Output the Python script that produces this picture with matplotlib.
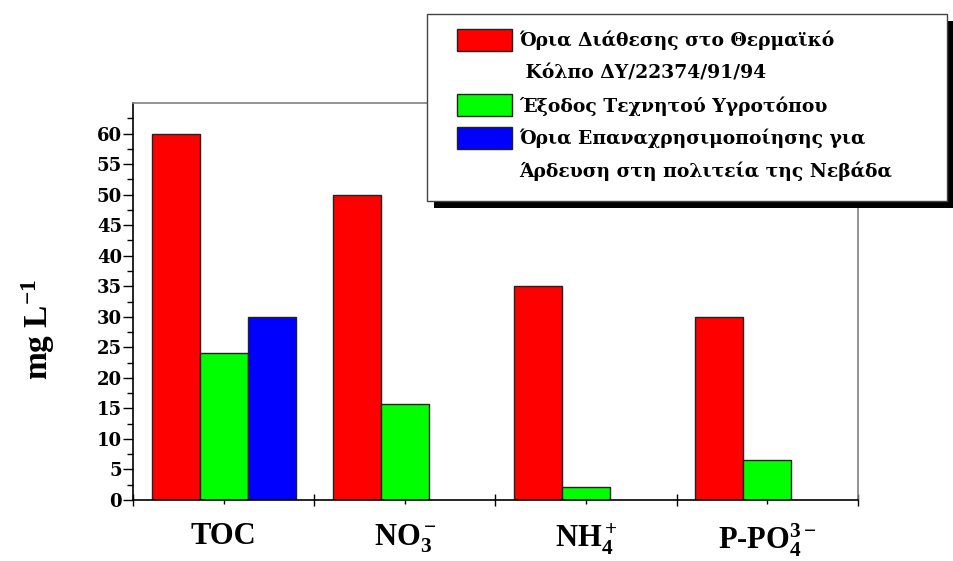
import matplotlib
matplotlib.use('Agg')
import matplotlib.pyplot as plt
from matplotlib.patches import Rectangle, Patch
import numpy as np

plt.rcParams['font.family'] = ['Liberation Serif', 'DejaVu Serif']
plt.rcParams['font.weight'] = 'bold'
plt.rcParams['axes.labelweight'] = 'bold'
plt.rcParams['mathtext.fontset'] = 'custom'
plt.rcParams['mathtext.rm'] = 'Liberation Serif:bold'
plt.rcParams['mathtext.it'] = 'Liberation Serif:bold'
plt.rcParams['mathtext.bf'] = 'Liberation Serif:bold'

# data (mg/L)
categories = ['TOC', r'NO$_3^-$', r'NH$_4^+$', r'P-PO$_4^{3-}$']
disposal_limits = [60, 50, 35, 30]        # Όρια Διάθεσης στο Θερμαϊκό
wetland_outflow = [24.1, 15.7, 2.2, 6.6]  # Έξοδος Τεχνητού Υγροτόπου
nevada_reuse = [30, None, None, None]     # Όρια Επαναχρησιμοποίησης (μόνο TOC)

series_labels = [
    ['Όρια Διάθεσης στο Θερμαϊκό', ' Κόλπο ΔΥ/22374/91/94'],
    ['Έξοδος Τεχνητού Υγροτόπου'],
    ['Όρια Επαναχρησιμοποίησης για', 'Άρδευση στη πολιτεία της Νεβάδα'],
]
colors = ['#ff0000', '#00ff00', '#0000ff']

# wide serif for ticks / legend (the original text is widely spaced)
wide_font = ['DejaVu Serif']

W, H = 954, 561
fig = plt.figure(figsize=(W / 100, H / 100), dpi=100)
ax = fig.add_axes([133 / W, 1 - 500 / H, (858 - 133) / W, (500 - 103) / H])

x = np.arange(len(categories))
bw = 0.265
all_series = [disposal_limits, wetland_outflow, nevada_reuse]
for k, (vals, c) in enumerate(zip(all_series, colors)):
    xs = [xi + (k - 1) * bw for xi, v in zip(x, vals) if v is not None]
    hs = [v for v in vals if v is not None]
    ax.bar(xs, hs, width=bw, color=c, edgecolor='#222222', linewidth=1.0, zorder=2)

ax.set_xlim(-0.5, len(categories) - 0.5)
ax.set_ylim(0, 65)

ax.set_yticks(np.arange(0, 61, 5))
ax.set_yticks(np.arange(0, 65, 2.5), minor=True)
ax.tick_params(axis='y', which='major', direction='out', length=7, width=1,
               pad=1, labelsize=13)
ax.tick_params(axis='y', which='minor', direction='out', length=4, width=1)
for lab in ax.get_yticklabels():
    lab.set_family(wide_font)

ax.set_xticks(np.arange(-0.5, len(categories), 1.0))
ax.set_xticklabels([])
ax.set_xticks(x, categories, minor=True)
ax.tick_params(axis='x', which='major', direction='inout', length=8, width=1)
ax.tick_params(axis='x', which='minor', direction='out', length=3, width=1,
               labelsize=22, pad=13)

for s in ['left', 'bottom']:
    ax.spines[s].set_color('black')
    ax.spines[s].set_linewidth(1.2)
for s in ['top', 'right']:
    ax.spines[s].set_color('#808080')
    ax.spines[s].set_linewidth(1.2)

ax.set_ylabel(r'mg L$^{-1}$', fontsize=24, fontweight='bold')
ax.yaxis.set_label_coords(-0.105, 0.43)

# legend box with heavy black shadow
bx0, by0, bx1, by1 = 427, 14, 947, 201
sh = 7
fig.patches.append(Rectangle(((bx0 + sh) / W, 1 - (by1 + sh) / H),
                             (bx1 - bx0) / W, (by1 - by0) / H,
                             transform=fig.transFigure, facecolor='black',
                             edgecolor='none', zorder=3))
fig.patches.append(Rectangle((bx0 / W, 1 - by1 / H), (bx1 - bx0) / W,
                             (by1 - by0) / H, transform=fig.transFigure,
                             facecolor='white', edgecolor='#444444',
                             linewidth=1.0, zorder=4))

handles, labels = [], []
for c, lines in zip(colors, series_labels):
    for i, line in enumerate(lines):
        if i == 0:
            handles.append(Patch(facecolor=c, edgecolor='#222222', linewidth=1.0))
        else:
            handles.append(Patch(facecolor='none', edgecolor='none'))
        labels.append(line)

leg = fig.legend(handles, labels, loc='upper left',
                 bbox_to_anchor=(457 / W, 1 - 29 / H), frameon=False,
                 prop={'family': wide_font, 'weight': 'bold', 'size': 13.5},
                 handlelength=2.95, handleheight=1.45,
                 handletextpad=0.38, labelspacing=0.55, borderpad=0,
                 borderaxespad=0)
leg.set_zorder(5)

fig.savefig('out.png', dpi=100)
